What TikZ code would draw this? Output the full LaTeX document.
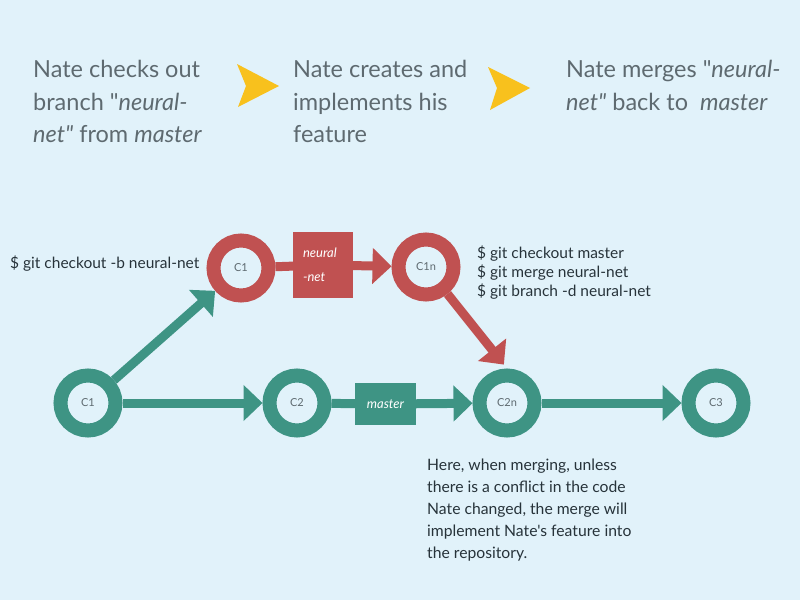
\documentclass[tikz,border=0pt]{standalone}
\usepackage{fontspec}
\setmainfont{Lato}[Ligatures=TeXOff]
\usetikzlibrary{arrows.meta}
\definecolor{bgblue}{HTML}{E1F2FA}
\definecolor{teal}{HTML}{3E9484}
\definecolor{brick}{HTML}{C05151}
\definecolor{amber}{HTML}{F8C11D}
\definecolor{slate}{HTML}{5E6A70}
\definecolor{ink}{HTML}{27333A}
\begin{document}
\begin{tikzpicture}[x=1pt, y=-1pt,
    commit/.style={circle, line width=14pt, minimum size=55pt, inner sep=0pt,
        outer sep=7pt, fill=bgblue, text=slate, font=\fontsize{11}{13}\selectfont},
    branchbox/.style={rectangle, inner sep=0pt, outer sep=0pt, text=white,
        font=\fontsize{13}{24}\selectfont\itshape},
    link/.style={line width=9pt},
    tip/.style={-{Triangle[width=35pt, length=19pt]}},
    step note/.style={anchor=north west, inner sep=0pt, align=left, text=slate,
        font=\fontsize{23.5}{32.5}\selectfont},
    cmd/.style={inner sep=0pt, align=left, text=ink, font=\fontsize{15.5}{19}\selectfont}]
    % Canvas
    \useasboundingbox (0,0) rectangle (800,600);
    \fill[bgblue] (0,0) rectangle (800,600);

    % Steps along the top
    \node[step note] (s1) at (33,60) {Nate checks out\\branch "\textit{neural-}\\\textit{net"} from \textit{master}};
    \node[step note] (s2) at (293,60) {Nate creates and\\implements his\\feature};
    \node[step note] (s3) at (566,60) {Nate merges "\textit{neural-}\\\textit{net"} back to\ \ \textit{master}};
    \fill[amber] (237,64) -- (279,86) -- (238,107) -- (246,86) -- cycle;
    \fill[amber] (488,67) -- (530,88) -- (490,110) -- (497,88) -- cycle;

    % Commits on master
    \node[commit, draw=teal] (c1) at (88,403) {C1};
    \node[commit, draw=teal] (c2) at (297,403) {C2};
    \node[commit, draw=teal] (c2n) at (507,403) {C2n};
    \node[commit, draw=teal] (c3) at (716,403) {C3};
    \node[branchbox, fill=teal, minimum width=61pt, minimum height=42pt] (mbox) at (385.5,404) {master};

    % Commits on neural-net
    \node[commit, draw=brick] (c1b) at (241,268) {C1};
    \node[commit, draw=brick] (c1n) at (426,267) {C1n};
    \node[branchbox, fill=brick, minimum width=60pt, minimum height=66pt,
        text width=40pt, align=left] (nbox) at (323,265) {neural\\-net};

    % Connectors
    \draw[link, teal, tip] (c1) -- (c2);
    \draw[link, teal, tip] (c1) -- (c1b);
    \draw[link, teal] (c2) -- (mbox);
    \draw[link, teal, tip] (mbox) -- (c2n);
    \draw[link, teal, tip] (c2n) -- (c3);
    \draw[link, brick] (c1b) -- (nbox);
    \draw[link, brick, tip] (nbox) -- (c1n);
    \draw[link, brick, tip, shorten >=5pt] (c1n) -- (c2n.north);

    % Commands and notes
    \node[cmd, anchor=base west] (cmdout) at (10,268) {\$ git checkout -b neural-net};
    \node[cmd, anchor=north west] (cmdmerge) at (477,246) {\$ git checkout master\\\$ git merge neural-net\\\$ git branch -d neural-net};
    \node[cmd, anchor=north west, font=\fontsize{15.7}{22}\selectfont] (note) at (427,458.5)
        {Here, when merging, unless\\there is a conflict in the code\\Nate changed, the merge will\\implement Nate's feature into\\the repository.};
\end{tikzpicture}
\end{document}
